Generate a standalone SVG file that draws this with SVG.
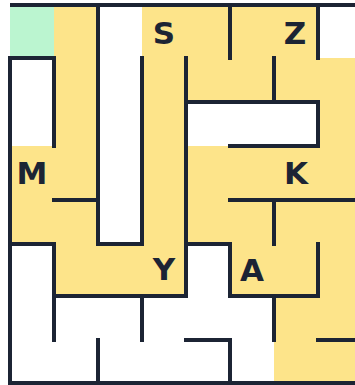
<svg xmlns="http://www.w3.org/2000/svg" width="355" height="385" viewBox="0 0 355 385">
  <style>
    .path { fill: #fde48a; }
    .start { fill: #bbf5d0; }
    .wall { fill: none; stroke: #1c2434; stroke-width: 4; stroke-linecap: square; stroke-linejoin: miter; }
    .lbl { font-family: "DejaVu Sans", "Liberation Sans", sans-serif; font-weight: bold; font-size: 31px; fill: #1c2434; text-anchor: middle; }
  </style>
  <rect x="0" y="0" width="355" height="385" fill="#ffffff"/>
  <g id="cells">
    <rect class="start" x="10" y="5" width="44" height="53"/>
    <rect class="path" x="54" y="5" width="44" height="291"/>
    <rect class="path" x="142" y="5" width="44" height="291"/>
    <rect class="path" x="186" y="5" width="132" height="97"/>
    <rect class="path" x="318" y="58" width="44" height="325"/>
    <rect class="path" x="274" y="146" width="44" height="237"/>
    <rect class="path" x="186" y="146" width="88" height="98"/>
    <rect class="path" x="230" y="244" width="44" height="52"/>
    <rect class="path" x="10" y="146" width="44" height="98"/>
    <rect class="path" x="98" y="244" width="44" height="52"/>
  </g>
  <g id="walls" class="wall">
    <path d="M12 5 H362"/>
    <path d="M10 58 V383 H362"/>
    <path d="M10 58 H54 V146"/>
    <path d="M98 5 V244 H142 V58"/>
    <path d="M54 200 H98"/>
    <path d="M10 244 H54 V340"/>
    <path d="M54 296 H186 V58"/>
    <path d="M142 296 V340"/>
    <path d="M98 340 V383"/>
    <path d="M230 5 V58"/>
    <path d="M318 5 V58"/>
    <path d="M274 58 V102"/>
    <path d="M186 102 H318 V146 H230"/>
    <path d="M230 200 H362"/>
    <path d="M274 200 V244"/>
    <path d="M186 244 H230 V296 H318 V244"/>
    <path d="M274 296 V340"/>
    <path d="M186 340 H230 V383"/>
    <path d="M318 340 H362"/>
  </g>
  <g id="label-S"><text class="lbl" x="164" y="43.5">S</text></g>
  <g id="label-Z"><text class="lbl" x="295" y="43.5">Z</text></g>
  <g id="label-M"><text class="lbl" x="32" y="183.5">M</text></g>
  <g id="label-K"><text class="lbl" x="296" y="183.5">K</text></g>
  <g id="label-Y"><text class="lbl" x="164" y="280">Y</text></g>
  <g id="label-A"><text class="lbl" x="252" y="280.5">A</text></g>
</svg>
